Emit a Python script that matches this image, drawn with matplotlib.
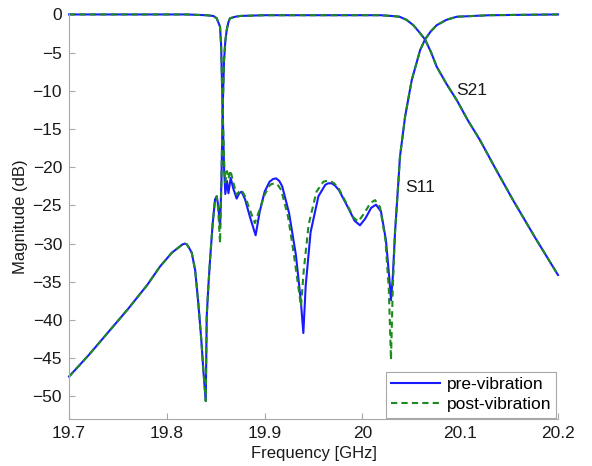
import matplotlib
matplotlib.use("Agg")
import matplotlib.pyplot as plt

plt.rcParams['font.family'] = ['Liberation Sans', 'DejaVu Sans']

# S21 (transmission), pre-vibration
f_s21 = [19.700, 19.720, 19.742, 19.760, 19.780, 19.793, 19.805, 19.811, 19.816, 19.8186,
         19.8205, 19.823, 19.8255, 19.829, 19.8322, 19.8352, 19.8373, 19.8398, 19.8408,
         19.8425, 19.8442, 19.8468, 19.8493, 19.851, 19.8525, 19.8544, 19.8558,
         19.8572, 19.8585, 19.8598, 19.8612, 19.863, 19.8646, 19.870, 19.8749,
         19.900, 20.000, 20.018, 20.030, 20.038, 20.045, 20.052, 20.058, 20.064,
         20.070, 20.076, 20.086, 20.0964, 20.108, 20.120, 20.137, 20.154, 20.177,
         20.200]
s21_pre = [-47.4, -44.6, -41.3, -38.6, -35.4, -33.0, -31.2, -30.6, -30.1, -30.0,
           -30.1, -30.6, -31.2, -33.5, -37.8, -42.5, -46.5, -50.6, -39.5,
           -35.5, -32.1, -27.5, -24.2, -23.8, -25.0, -27.8, -22.0,
           -12.0, -6.0, -3.5, -2.05, -1.0, -0.5, -0.3, -0.2,
           -0.1, -0.1, -0.1, -0.2, -0.3, -0.7, -1.4, -2.3, -3.27,
           -4.9, -6.85, -9.1, -11.2, -13.9, -16.4, -20.4, -24.3, -29.3,
           -34.1]
s21_post = [-47.4, -44.6, -41.3, -38.6, -35.4, -33.0, -31.2, -30.6, -30.1, -30.0,
            -30.1, -30.6, -31.2, -33.5, -37.8, -42.5, -46.5, -50.6, -39.5,
            -35.5, -32.1, -27.5, -24.2, -23.8, -25.5, -29.9, -22.0,
            -12.0, -6.0, -3.5, -2.05, -1.0, -0.5, -0.3, -0.2,
            -0.1, -0.1, -0.1, -0.2, -0.3, -0.7, -1.4, -2.3, -3.27,
            -4.9, -6.85, -9.1, -11.2, -13.9, -16.4, -20.4, -24.3, -29.3,
            -34.1]

# S11 (reflection), pre-vibration
f_s11_pre = [19.700, 19.820, 19.840, 19.8476, 19.851, 19.8544, 19.8555, 19.857,
             19.8585, 19.8598, 19.8615, 19.863, 19.8653, 19.868, 19.8714, 19.874,
             19.8765, 19.880, 19.885, 19.8908, 19.895, 19.900, 19.905, 19.9085,
             19.9117, 19.915, 19.918, 19.925, 19.932, 19.937, 19.9396, 19.942,
             19.947, 19.955, 19.962, 19.965, 19.9686, 19.972, 19.976, 19.985,
             19.992, 19.9975, 20.003, 20.009, 20.0139, 20.019, 20.024, 20.0275,
             20.0292, 20.031, 20.0333, 20.0367, 20.0384, 20.0436, 20.0504, 20.059,
             20.064, 20.070, 20.076, 20.086, 20.0964, 20.130, 20.200]
s11_pre = [0.0, 0.0, -0.1, -0.2, -0.5, -1.6, -4.0, -12.0,
           -20.0, -23.5, -21.8, -23.4, -21.4, -22.8, -24.1, -23.4,
           -23.2, -24.2, -26.5, -28.9, -25.8, -23.2, -21.9, -21.55,
           -21.45, -21.8, -22.5, -26.0, -31.5, -37.5, -41.7, -35.5,
           -28.5, -23.8, -22.3, -22.1, -22.1, -22.4, -23.0, -25.2,
           -27.0, -27.6, -26.7, -25.3, -24.9, -25.8, -29.5, -34.5,
           -37.4, -34.5, -28.6, -22.0, -18.6, -13.4, -8.6, -4.67,
           -3.27, -2.2, -1.4, -0.7, -0.3, -0.1, 0.0]

# S11 (reflection), post-vibration
f_s11_post = [19.700, 19.820, 19.840, 19.8476, 19.851, 19.8544, 19.8555, 19.857,
              19.8585, 19.8598, 19.8615, 19.863, 19.865, 19.868, 19.8714, 19.874,
              19.8765, 19.880, 19.885, 19.890, 19.895, 19.900, 19.905, 19.907,
              19.9106, 19.914, 19.917, 19.924, 19.930, 19.9372, 19.940, 19.945,
              19.953, 19.960, 19.963, 19.967, 19.971, 19.975, 19.984, 19.991,
              19.9958, 20.002, 20.008, 20.0129, 20.018, 20.0235, 20.027, 20.0292,
              20.031, 20.0333, 20.0367, 20.0384, 20.0436, 20.0504, 20.059, 20.064,
              20.070, 20.076, 20.086, 20.0964, 20.130, 20.200]
s11_post = [0.0, 0.0, -0.1, -0.2, -0.5, -1.6, -4.0, -12.0,
            -19.0, -22.0, -20.5, -21.5, -20.4, -22.0, -23.6, -23.2,
            -23.0, -23.8, -25.6, -27.3, -25.5, -23.6, -22.4, -22.2,
            -22.1, -22.4, -23.0, -26.5, -31.5, -38.2, -33.5, -27.5,
            -23.2, -21.9, -21.8, -21.8, -22.1, -22.6, -24.8, -26.6,
            -27.1, -26.0, -24.7, -24.3, -25.2, -29.5, -36.0, -45.2,
            -36.0, -28.6, -22.0, -18.6, -13.4, -8.6, -4.67, -3.27,
            -2.2, -1.4, -0.7, -0.3, -0.1, 0.0]

blue = '#1a1aff'
green = '#1f8a1f'

fig = plt.figure(figsize=(5.92, 4.66), dpi=100)
ax = fig.add_axes([0.1166, 0.100, 0.826, 0.869])

ax.plot(f_s11_pre, s11_pre, color=blue, lw=1.5, clip_on=False)
ax.plot(f_s21, s21_pre, color=blue, lw=1.5, clip_on=False, label='pre-vibration')
ax.plot(f_s11_post, s11_post, color=green, lw=1.5, ls=(0, (3, 2)), clip_on=False)
ax.plot(f_s21, s21_post, color=green, lw=1.5, ls=(0, (3, 2)), clip_on=False,
        label='post-vibration')

ax.set_xlim(19.7, 20.2)
ax.set_ylim(-53, 0)
ax.set_xticks([19.7, 19.8, 19.9, 20.0, 20.1, 20.2])
ax.set_xticklabels(['19.7', '19.8', '19.9', '20', '20.1', '20.2'])
ax.set_yticks(range(-50, 1, 5))

for s in ['top', 'right']:
    ax.spines[s].set_visible(False)
for s in ['left', 'bottom']:
    ax.spines[s].set_color('#a8a8a8')
    ax.spines[s].set_linewidth(0.8)
ax.tick_params(direction='in', length=4, color='#a8a8a8', labelsize=12.5,
               labelcolor='#1a1a1a', pad=5)

ax.set_xlabel('Frequency [GHz]', fontsize=12, color='#1a1a1a', labelpad=3)
ax.set_ylabel('Magnitude (dB)', fontsize=12, color='#1a1a1a', labelpad=3)

ax.text(20.0436, -22.7, 'S11', fontsize=12.5, va='center', ha='left', color='#1a1a1a')
ax.text(20.0957, -10.0, 'S21', fontsize=12.5, va='center', ha='left', color='#1a1a1a')

leg = ax.legend(loc='lower right', fontsize=12.5, fancybox=False, framealpha=1,
                edgecolor='#a8a8a8', borderaxespad=0.1, handlelength=2.8,
                handletextpad=0.4, borderpad=0.3, labelspacing=0.3)
leg.get_frame().set_linewidth(0.8)

fig.savefig('out.png', dpi=100)
